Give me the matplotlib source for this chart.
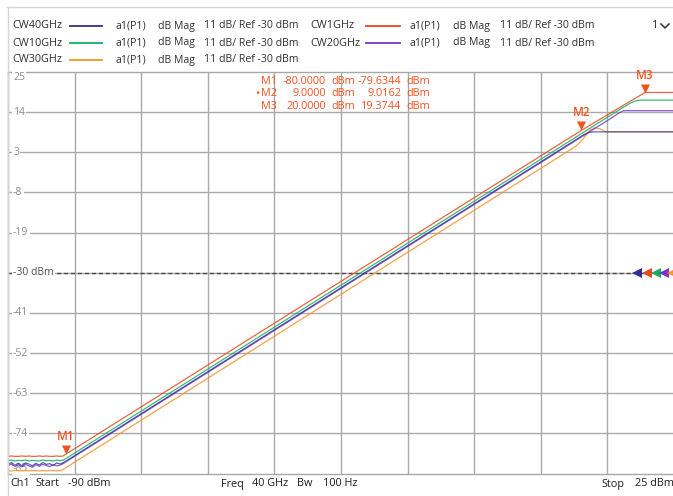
import matplotlib
matplotlib.use("Agg")
import matplotlib.pyplot as plt
from matplotlib.path import Path
from matplotlib.lines import Line2D
from matplotlib.transforms import blended_transform_factory, offset_copy

# ---------------- data ----------------
x_min, x_max = -90, 25          # input power sweep (dBm)
y_top, y_bot = 25, -85          # display range (dBm), 11 dB/div
x_div, y_div = 11.5, 11.0
ref_level = -30

y_tick_labels = ["25", "14", "3", "-8", "-19", "-30 dBm", "-41", "-52", "-63", "-74", "-85"]

trace_names = ["CW40GHz", "CW1GHz", "CW10GHz", "CW20GHz", "CW30GHz"]
trace_colors = ["#2e2f94", "#e8481e", "#0fb063", "#7d35c8", "#f7932a"]

floor_x = [-90, -89.4, -88.8, -88.2, -87.6, -87.0, -86.4, -85.8,
           -85.2, -84.6, -84.0, -83.4, -82.8, -82.2, -81.6, -81.0]

cw40_floor = [-82.5, -82.0, -82.7, -82.2, -82.9, -82.1, -82.4, -82.9,
              -82.2, -82.7, -82.0, -82.5, -82.3, -82.8, -82.1, -82.4]
cw40_kx = [-80.4, 9.4, 10.4, 11.2, 25]
cw40_ky = [-82.0, 7.8, 8.5, 8.6, 8.6]

cw1_floor = [-80.3, -80.2, -80.3, -80.3, -80.2, -80.3, -80.2, -80.3,
             -80.3, -80.2, -80.3, -80.2, -80.3, -80.3, -80.2, -80.3]
cw1_kx = [-80.5, 9.0, 20.0, 25]
cw1_ky = [-80.2, 9.0, 19.4, 19.4]

cw10_floor = [-81.5, -81.3, -81.6, -81.4, -81.5, -81.3, -81.6, -81.4,
              -81.5, -81.6, -81.3, -81.5, -81.4, -81.6, -81.3, -81.5]
cw10_kx = [-80.4, 16.0, 17.6, 18.6, 19.3, 25]
cw10_ky = [-81.3, 15.1, 16.6, 17.2, 17.3, 17.3]

cw20_floor = [-82.9, -82.4, -83.1, -82.6, -83.2, -82.5, -82.9, -83.3,
              -82.6, -83.0, -82.5, -82.8, -83.1, -82.6, -82.9, -82.7]
cw20_kx = [-80.6, 14.0, 15.5, 16.3, 25]
cw20_ky = [-82.4, 12.2, 13.8, 14.4, 14.4]

cw30_floor = [-84.2, -84.3, -84.2, -84.2, -84.3, -84.2, -84.3, -84.2,
              -84.2, -84.3, -84.2, -84.3, -84.2, -84.2, -84.3, -84.2]
cw30_kx = [-80.6, 8.0, 9.3, 10.5, 11.3, 12.3, 13.2, 25]
cw30_ky = [-84.0, 4.6, 6.6, 9.1, 9.7, 9.4, 8.6, 8.6]

marker_names = ["M1", "M2", "M3"]
marker_x = [-80.0, 9.0, 20.0]
marker_y = [-79.6344, 9.0162, 19.3744]

legend_desc = ["a1(P1)", "dB Mag", "11 dB/ Ref -30 dBm"]
status_left = ["Ch1", "Start", "-90 dBm"]
status_mid = ["Freq", "40 GHz", "Bw", "100 Hz"]
status_right = ["Stop", "25 dBm"]

# ---------------- figure ----------------
W, H = 673, 496
plt.rcParams['font.family'] = ['Open Sans', 'DejaVu Sans']
fig = plt.figure(figsize=(W / 100, H / 100), dpi=100)
fig.patch.set_facecolor('white')

def fx(px):
    return px / W

def fy(py):
    return 1 - py / H

# outer frame
fig.add_artist(Line2D([fx(7), fx(673)], [fy(7), fy(7)], color='#d4d4d4', lw=1))
fig.add_artist(Line2D([fx(7.5), fx(7.5)], [fy(7), fy(496)], color='#d4d4d4', lw=1))

ax = fig.add_axes([fx(8), fy(473.5), 666 / W, 401.5 / H])
ax.set_xlim(x_min, x_max)
ax.set_ylim(y_bot, y_top)
ax.set_xticks([])
ax.set_yticks([])
for sp in ax.spines.values():
    sp.set_color('#a8a8a8')
    sp.set_linewidth(1)

grid_c = '#a9a9a9'
n_div = 10
for i in range(1, n_div):
    ax.axvline(x_min + i * x_div, color=grid_c, lw=1, zorder=1)
    ax.axhline(y_top - i * y_div, color=grid_c, lw=1, zorder=1)

# reference line
ax.axhline(ref_level, color='#4a4a4a', lw=1, dashes=(3, 2), zorder=2)

# y labels
tr_lab = blended_transform_factory(ax.transAxes, ax.transData)
for i, lab in enumerate(y_tick_labels):
    yv = y_top - i * y_div
    if i == 0:
        t = offset_copy(tr_lab, fig=fig, x=0, y=-6, units='dots')
    elif i == n_div:
        t = offset_copy(tr_lab, fig=fig, x=0, y=5, units='dots')
    else:
        t = tr_lab
    col = '#505050' if 'dBm' in lab else '#8c8c8c'
    ax.text(5 / 666, yv, lab, transform=t, ha='left', va='center', fontsize=7.5,
            color=col, zorder=3,
            bbox=dict(boxstyle='square,pad=0.12', fc='white', ec='none'))

# traces
trace_x = [floor_x + cw40_kx, floor_x + cw1_kx, floor_x + cw10_kx,
           floor_x + cw20_kx, floor_x + cw30_kx]
trace_y = [cw40_floor + cw40_ky, cw1_floor + cw1_ky, cw10_floor + cw10_ky,
           cw20_floor + cw20_ky, cw30_floor + cw30_ky]
draw_order = [4, 1, 2, 3, 0]
for k in draw_order:
    ax.plot(trace_x[k], trace_y[k], color=trace_colors[k], lw=0.9,
            alpha=0.85 if k != 0 else 0.75, zorder=5, solid_joinstyle='round')

# markers (down triangles with tip on the data point)
mcol = '#f0531f'
tri = Path([(-0.5, 1.0), (0.5, 1.0), (0.0, 0.0), (-0.5, 1.0)],
           [Path.MOVETO, Path.LINETO, Path.LINETO, Path.CLOSEPOLY])
ax.plot(marker_x, marker_y, linestyle='none', marker=tri, markersize=13,
        color=mcol, markeredgewidth=0, zorder=7)
for name, xv, yv in zip(marker_names, marker_x, marker_y):
    ax.annotate(name, xy=(xv, yv), xytext=(0, 11), textcoords='offset pixels',
                ha='center', va='bottom', fontsize=8.5, color=mcol,
                fontweight='semibold', zorder=8)

# reference arrows on right edge
ref_px = [637, 646.5, 655.5, 663.5, 672]
for px, col in zip(ref_px, trace_colors):
    ax.plot([(px - 8) / 666], [ref_level], transform=tr_lab, marker='<',
            markersize=7, color=col, markeredgewidth=0,
            linestyle='none', zorder=9, clip_on=False)

# marker readout table
rows_y = [81, 94, 106.5]
for i, (name, xv, yv) in enumerate(zip(marker_names, marker_x, marker_y)):
    yy = fy(rows_y[i])
    kw = dict(fontsize=7.8, color=mcol, va='center')
    fig.text(fx(277), yy, name, ha='right', **kw)
    if i == 1:
        fig.text(fx(257), yy, "•", ha='center', fontsize=8, color=mcol, va='center')
    fig.text(fx(326), yy, f"{xv:.4f}", ha='right', **kw)
    fig.text(fx(331), yy, "dBm", ha='left', **kw)
    fig.text(fx(401), yy, f"{yv:.4f}", ha='right', **kw)
    fig.text(fx(406), yy, "dBm", ha='left', **kw)

# header legend
leg_rows = [26, 43, 60]
col_x = [
    dict(name=12, l0=70, l1=102, d=[116, 158, 204]),
    dict(name=310, l0=366, l1=400, d=[410, 453, 500]),
]
trace_slot = {"CW40GHz": (0, 0), "CW1GHz": (0, 1), "CW10GHz": (1, 0),
              "CW20GHz": (1, 1), "CW30GHz": (2, 0)}
txt_c = '#303030'
for k, nm in enumerate(trace_names):
    r, c = trace_slot[nm]
    yy = fy(leg_rows[r])
    cx = col_x[c]
    fig.text(fx(cx['name']), yy, nm, ha='left', va='center', fontsize=7.8, color=txt_c)
    fig.add_artist(Line2D([fx(cx['l0']), fx(cx['l1'])], [yy, yy], color=trace_colors[k], lw=1.3))
    for s, dx in zip(legend_desc, cx['d']):
        fig.text(fx(dx), yy, s, ha='left', va='center', fontsize=7.6, color=txt_c)

fig.text(fx(652), fy(26), "1", ha='left', va='center', fontsize=7.8, color=txt_c)
fig.add_artist(Line2D([fx(661), fx(665), fx(669)], [fy(24), fy(28), fy(24)], color=txt_c, lw=1.1))

# status bar
sy = fy(484)
for s, px in zip(status_left, [10, 35, 68]):
    fig.text(fx(px), sy, s, ha='left', va='center', fontsize=7.8, color='#202020')
for s, px in zip(status_mid, [221, 252, 297, 323]):
    fig.text(fx(px), sy, s, ha='left', va='center', fontsize=7.8, color='#202020')
for s, px in zip(status_right, [601, 635]):
    fig.text(fx(px), sy, s, ha='left', va='center', fontsize=7.8, color='#202020')

fig.savefig("out.png", dpi=100)
